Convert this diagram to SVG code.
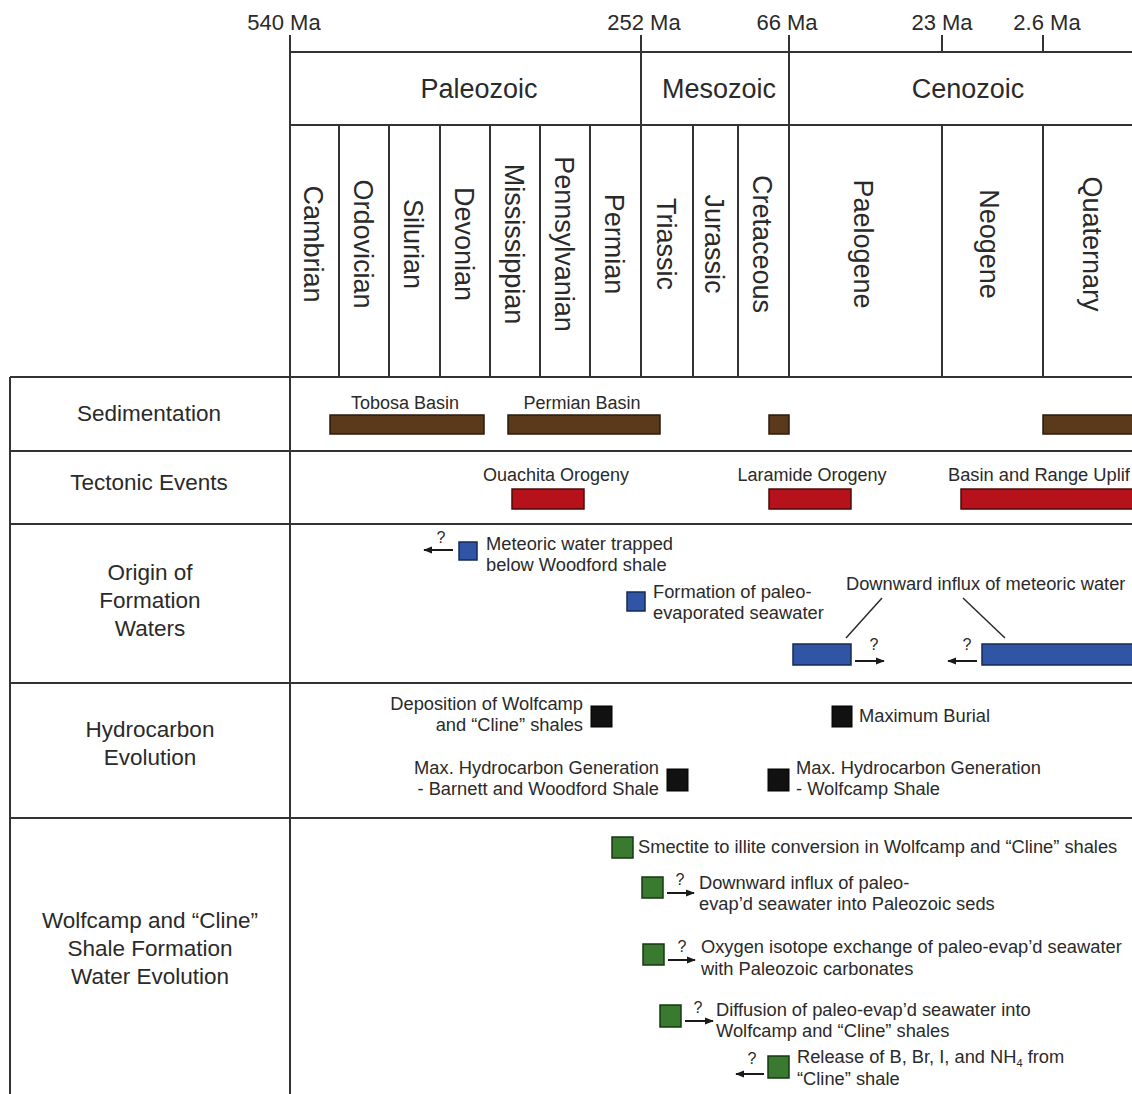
<svg xmlns="http://www.w3.org/2000/svg" width="1132" height="1094" viewBox="0 0 1132 1094">
<defs>
<marker id="ah" viewBox="0 0 10 10" refX="9" refY="5" markerWidth="9" markerHeight="9" markerUnits="userSpaceOnUse" orient="auto"><path d="M0,1 L10,5 L0,9 Z" fill="#1a1a1a"/></marker>
<style>
text{font-family:"Liberation Sans",Arial,sans-serif;fill:#2a2a2a}
.grid{stroke:#333;stroke-width:2;fill:none}
.tick{font-size:22px;text-anchor:middle}
.era{font-size:27px;text-anchor:middle}
.per{font-size:27px;text-anchor:middle}
.row{font-size:22.5px;text-anchor:middle}
.lbl{font-size:18px;text-anchor:middle}
.ann{font-size:18.3px}
.annr{font-size:18.3px;text-anchor:end}
.q{font-size:16px;text-anchor:middle}
.brown{fill:#5b3a1c;stroke:#2b1a0c;stroke-width:1.5}
.red{fill:#b5121b;stroke:#4e0a0a;stroke-width:1.5}
.blue{fill:#2f55a4;stroke:#162a55;stroke-width:1.5}
.black{fill:#111;stroke:#000;stroke-width:1}
.green{fill:#3a7a30;stroke:#173810;stroke-width:1.5}
.arr{stroke:#1a1a1a;stroke-width:2;fill:none;marker-end:url(#ah)}
.lead{stroke:#2a2a2a;stroke-width:1.5;fill:none}
</style>
</defs>
<rect width="1132" height="1094" fill="#fff"/>

<g id="grid" class="grid">
<line x1="290" y1="52" x2="1132" y2="52"/>
<line x1="290" y1="125" x2="1132" y2="125"/>
<line x1="10" y1="377" x2="1132" y2="377"/>
<line x1="10" y1="451" x2="1132" y2="451"/>
<line x1="10" y1="524" x2="1132" y2="524"/>
<line x1="10" y1="683" x2="1132" y2="683"/>
<line x1="10" y1="818" x2="1132" y2="818"/>
<line x1="10" y1="377" x2="10" y2="1094"/>
<line x1="290" y1="35" x2="290" y2="1094"/>
<line x1="641" y1="35" x2="641" y2="377"/>
<line x1="789" y1="35" x2="789" y2="377"/>
<line x1="942" y1="35" x2="942" y2="52"/>
<line x1="1043" y1="35" x2="1043" y2="52"/>
<line x1="339" y1="125" x2="339" y2="377"/>
<line x1="389" y1="125" x2="389" y2="377"/>
<line x1="440" y1="125" x2="440" y2="377"/>
<line x1="490" y1="125" x2="490" y2="377"/>
<line x1="540" y1="125" x2="540" y2="377"/>
<line x1="590" y1="125" x2="590" y2="377"/>
<line x1="693" y1="125" x2="693" y2="377"/>
<line x1="738" y1="125" x2="738" y2="377"/>
<line x1="942" y1="125" x2="942" y2="377"/>
<line x1="1043" y1="125" x2="1043" y2="377"/>
</g>

<g id="ticks">
<text class="tick" x="284" y="30">540 Ma</text>
<text class="tick" x="644" y="30">252 Ma</text>
<text class="tick" x="787" y="30">66 Ma</text>
<text class="tick" x="942" y="30">23 Ma</text>
<text class="tick" x="1047" y="30">2.6 Ma</text>
</g>

<g id="eras">
<text class="era" x="479" y="98">Paleozoic</text>
<text class="era" x="719" y="98">Mesozoic</text>
<text class="era" x="968" y="98">Cenozoic</text>
</g>

<g id="periods" class="per">
<text class="per" transform="translate(304,244) rotate(90)">Cambrian</text>
<text class="per" transform="translate(354,244) rotate(90)">Ordovician</text>
<text class="per" transform="translate(404,244) rotate(90)">Silurian</text>
<text class="per" transform="translate(455,244) rotate(90)">Devonian</text>
<text class="per" transform="translate(505,244) rotate(90)">Mississippian</text>
<text class="per" transform="translate(555,244) rotate(90)">Pennsylvanian</text>
<text class="per" transform="translate(605,244) rotate(90)">Permian</text>
<text class="per" transform="translate(657,244) rotate(90)">Triassic</text>
<text class="per" transform="translate(705,244) rotate(90)">Jurassic</text>
<text class="per" transform="translate(753,244) rotate(90)">Cretaceous</text>
<text class="per" transform="translate(854,244) rotate(90)">Paelogene</text>
<text class="per" transform="translate(980,244) rotate(90)">Neogene</text>
<text class="per" transform="translate(1083,244) rotate(90)">Quaternary</text>
</g>

<g id="row-labels">
<text class="row" x="149" y="421">Sedimentation</text>
<text class="row" x="149" y="490">Tectonic Events</text>
<text class="row" x="150" y="580">Origin of</text>
<text class="row" x="150" y="608">Formation</text>
<text class="row" x="150" y="636">Waters</text>
<text class="row" x="150" y="737">Hydrocarbon</text>
<text class="row" x="150" y="765">Evolution</text>
<text class="row" x="150" y="928">Wolfcamp and “Cline”</text>
<text class="row" x="150" y="956">Shale Formation</text>
<text class="row" x="150" y="984">Water Evolution</text>
</g>

<g id="sedimentation">
<rect class="brown" x="330" y="415" width="154" height="19"/>
<text class="lbl" x="405" y="409">Tobosa Basin</text>
<rect class="brown" x="508" y="415" width="152" height="19"/>
<text class="lbl" x="582" y="409">Permian Basin</text>
<rect class="brown" x="769" y="415" width="20" height="19"/>
<rect class="brown" x="1043" y="415" width="95" height="19"/>
</g>

<g id="tectonic">
<rect class="red" x="512" y="489" width="72" height="20"/>
<text class="lbl" x="556" y="481">Ouachita Orogeny</text>
<rect class="red" x="769" y="489" width="82" height="20"/>
<text class="lbl" x="812" y="481">Laramide Orogeny</text>
<rect class="red" x="961" y="489" width="177" height="20"/>
<text class="ann" x="948" y="481">Basin and Range Uplif</text>
</g>

<g id="origin">
<rect class="blue" x="459" y="542" width="18" height="18"/>
<text class="q" x="441" y="543">?</text>
<text class="ann" x="486" y="550">Meteoric water trapped</text>
<text class="ann" x="486" y="571">below Woodford shale</text>
<rect class="blue" x="627" y="592" width="18" height="19"/>
<text class="ann" x="653" y="598">Formation of paleo-</text>
<text class="ann" x="653" y="619">evaporated seawater</text>
<text class="ann" x="846" y="590">Downward influx of meteoric water</text>
<rect class="blue" x="793" y="644" width="58" height="21"/>
<text class="q" x="874" y="650">?</text>
<rect class="blue" x="982" y="644" width="156" height="21"/>
<text class="q" x="967" y="650">?</text>
</g>

<g id="hydrocarbon">
<text class="annr" x="583" y="710">Deposition of Wolfcamp</text>
<text class="annr" x="583" y="731">and “Cline” shales</text>
<rect class="black" x="591" y="706" width="21" height="21"/>
<rect class="black" x="832" y="706" width="20" height="21"/>
<text class="ann" x="859" y="722">Maximum Burial</text>
<text class="annr" x="659" y="774">Max. Hydrocarbon Generation</text>
<text class="annr" x="659" y="795">- Barnett and Woodford Shale</text>
<rect class="black" x="667" y="769" width="21" height="22"/>
<rect class="black" x="768" y="769" width="21" height="22"/>
<text class="ann" x="796" y="774">Max. Hydrocarbon Generation</text>
<text class="ann" x="796" y="795">- Wolfcamp Shale</text>
</g>

<g id="wolfcamp">
<rect class="green" x="612" y="837" width="21" height="21"/>
<text class="ann" x="638" y="853">Smectite to illite conversion in Wolfcamp and “Cline” shales</text>
<rect class="green" x="642" y="877" width="21" height="21"/>
<text class="q" x="680" y="885">?</text>
<text class="ann" x="699" y="889">Downward influx of paleo-</text>
<text class="ann" x="699" y="910">evap’d seawater into Paleozoic seds</text>
<rect class="green" x="643" y="944" width="21" height="21"/>
<text class="q" x="682" y="952">?</text>
<text class="ann" x="701" y="953">Oxygen isotope exchange of paleo-evap’d seawater</text>
<text class="ann" x="701" y="975">with Paleozoic carbonates</text>
<rect class="green" x="660" y="1005" width="21" height="22"/>
<text class="q" x="698" y="1013">?</text>
<text class="ann" x="716" y="1016">Diffusion of paleo-evap’d seawater into</text>
<text class="ann" x="716" y="1037">Wolfcamp and “Cline” shales</text>
<text class="q" x="752" y="1064">?</text>
<rect class="green" x="768" y="1056" width="21" height="22"/>
<text class="ann" x="797" y="1063">Release of B, Br, I, and NH<tspan font-size="11" dy="4">4</tspan><tspan dy="-4"> from</tspan></text>
<text class="ann" x="797" y="1085">“Cline” shale</text>
</g>

<g id="connectors">
<line class="arr" x1="453" y1="550" x2="424" y2="550"/>
<line class="lead" x1="846" y1="638" x2="882" y2="598"/>
<line class="lead" x1="963" y1="598" x2="1005" y2="638"/>
<line class="arr" x1="855" y1="661" x2="884" y2="661"/>
<line class="arr" x1="977" y1="661" x2="948" y2="661"/>
<line class="arr" x1="667" y1="893" x2="694" y2="893"/>
<line class="arr" x1="668" y1="960" x2="695" y2="960"/>
<line class="arr" x1="685" y1="1021" x2="713" y2="1021"/>
<line class="arr" x1="764" y1="1074" x2="736" y2="1074"/>
</g>
</svg>
